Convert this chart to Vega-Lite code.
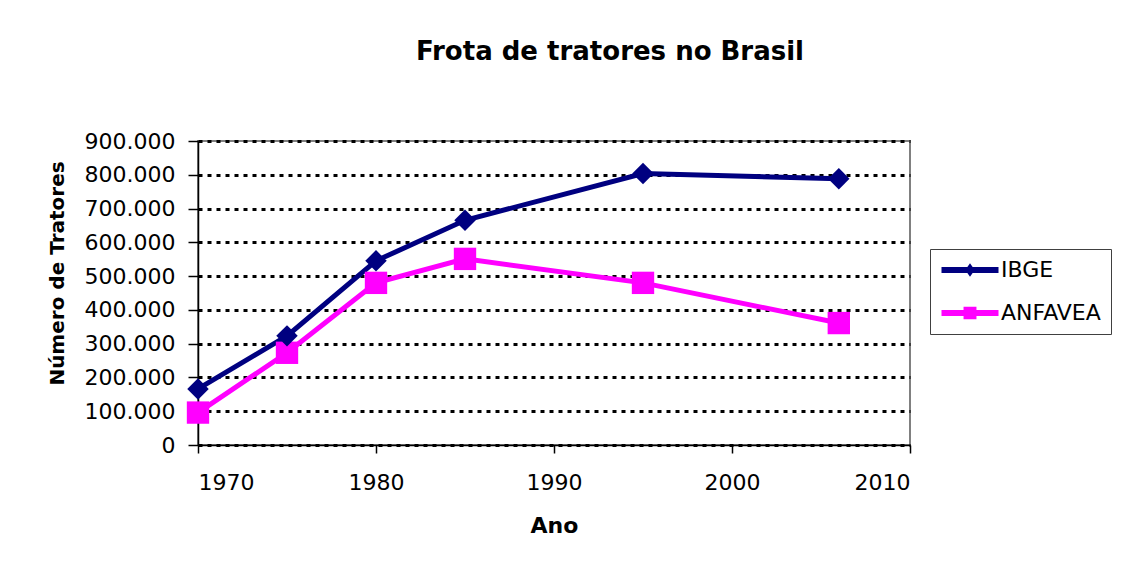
{
  "$schema": "https://vega.github.io/schema/vega-lite/v6.json",
  "autosize": {"type": "none"},
  "padding": {"left": 198, "top": 141, "right": 216, "bottom": 136},
  "width": 712,
  "height": 304,
  "background": "white",
  "title": {
    "text": "Frota de tratores no Brasil",
    "font": "DejaVu Sans",
    "fontSize": 26,
    "fontWeight": "bold",
    "color": "black",
    "anchor": "middle",
    "frame": "group",
    "dx": 56,
    "offset": 44,
    "baseline": "alphabetic"
  },
  "config": {
    "locale": {"number": {"decimal": ",", "thousands": ".", "grouping": [3], "currency": ["R$", ""]}},
    "view": {"stroke": "#808080", "strokeWidth": 2},
    "axis": {
      "labelFont": "DejaVu Sans",
      "labelFontSize": 22,
      "labelColor": "black",
      "titleFont": "DejaVu Sans",
      "titleFontWeight": "bold",
      "titleColor": "black",
      "domainColor": "black",
      "domainWidth": 1.5,
      "tickColor": "black",
      "tickWidth": 1.5
    },
    "legend": {
      "labelFont": "DejaVu Sans",
      "labelFontSize": 22,
      "labelColor": "black"
    }
  },
  "data": {
    "values": [
      {"ano": 1970, "fonte": "IBGE", "tratores": 165870},
      {"ano": 1975, "fonte": "IBGE", "tratores": 323113},
      {"ano": 1980, "fonte": "IBGE", "tratores": 545205},
      {"ano": 1985, "fonte": "IBGE", "tratores": 665280},
      {"ano": 1995, "fonte": "IBGE", "tratores": 803742},
      {"ano": 2006, "fonte": "IBGE", "tratores": 788053},
      {"ano": 1970, "fonte": "ANFAVEA", "tratores": 96000},
      {"ano": 1975, "fonte": "ANFAVEA", "tratores": 273000},
      {"ano": 1980, "fonte": "ANFAVEA", "tratores": 480000},
      {"ano": 1985, "fonte": "ANFAVEA", "tratores": 551000},
      {"ano": 1995, "fonte": "ANFAVEA", "tratores": 480000},
      {"ano": 2006, "fonte": "ANFAVEA", "tratores": 361000}
    ]
  },
  "encoding": {
    "x": {
      "field": "ano",
      "type": "quantitative",
      "scale": {"domain": [1970, 2010], "nice": false, "zero": false},
      "axis": {
        "values": [1970, 1980, 1990, 2000, 2010],
        "format": "d",
        "grid": false,
        "tickSize": 8,
        "labelPadding": 19,
        "title": "Ano",
        "titleFontSize": 22,
        "titlePadding": 22
      }
    },
    "y": {
      "field": "tratores",
      "type": "quantitative",
      "scale": {"domain": [0, 900000], "nice": false},
      "axis": {
        "values": [0, 100000, 200000, 300000, 400000, 500000, 600000, 700000, 800000, 900000],
        "format": ",d",
        "grid": true,
        "gridColor": "black",
        "gridDash": [4, 5],
        "gridWidth": 3,
        "tickSize": 10,
        "labelPadding": 13,
        "title": "Número de Tratores",
        "titleFontSize": 20,
        "titleAngle": -90,
        "titleAlign": "center",
        "titleBaseline": "alphabetic",
        "titleX": -135,
        "titleY": 132
      }
    }
  },
  "layer": [
    {
      "transform": [{"filter": "datum.fonte === 'IBGE'"}],
      "mark": {"type": "line", "strokeWidth": 5, "color": "#000080"}
    },
    {
      "transform": [{"filter": "datum.fonte === 'ANFAVEA'"}],
      "mark": {"type": "line", "strokeWidth": 5, "color": "#FF00FF"}
    },
    {
      "transform": [{"filter": "datum.fonte === 'ANFAVEA'"}],
      "mark": {"type": "point", "shape": "square", "filled": true, "size": 500, "opacity": 1, "color": "#FF00FF"}
    },
    {
      "transform": [{"filter": "datum.fonte === 'IBGE'"}],
      "mark": {"type": "point", "shape": "diamond", "filled": true, "size": 460, "opacity": 1, "color": "#000080"}
    },
    {
      "transform": [{"filter": "datum.ano > 3000"}],
      "mark": {"type": "point", "filled": true, "opacity": 1},
      "encoding": {
        "color": {
          "field": "fonte",
          "type": "nominal",
          "scale": {"domain": ["IBGE", "ANFAVEA"], "range": ["#000080", "#FF00FF"]},
          "legend": {
            "title": null,
            "orient": "none",
            "legendX": 732,
            "legendY": 108,
            "padding": 10,
            "strokeColor": "#404040",
            "symbolSize": 361,
            "symbolStrokeWidth": 0,
            "symbolOffset": 19,
            "labelOffset": 20,
            "rowPadding": 21
          }
        },
        "shape": {
          "field": "fonte",
          "type": "nominal",
          "scale": {
            "domain": ["IBGE", "ANFAVEA"],
            "range": [
              "M-3,-0.32H3V0.32H-3Z M0,-0.7L0.5,0L0,0.7L-0.5,0Z",
              "M-3,-0.32H3V0.32H-3Z M-0.68,-0.65H0.68V0.65H-0.68Z"
            ]
          },
          "legend": {
            "title": null,
            "orient": "none",
            "legendX": 732,
            "legendY": 108,
            "padding": 10,
            "strokeColor": "#404040",
            "symbolSize": 361,
            "symbolStrokeWidth": 0,
            "symbolOffset": 19,
            "labelOffset": 20,
            "rowPadding": 21
          }
        }
      }
    }
  ]
}
